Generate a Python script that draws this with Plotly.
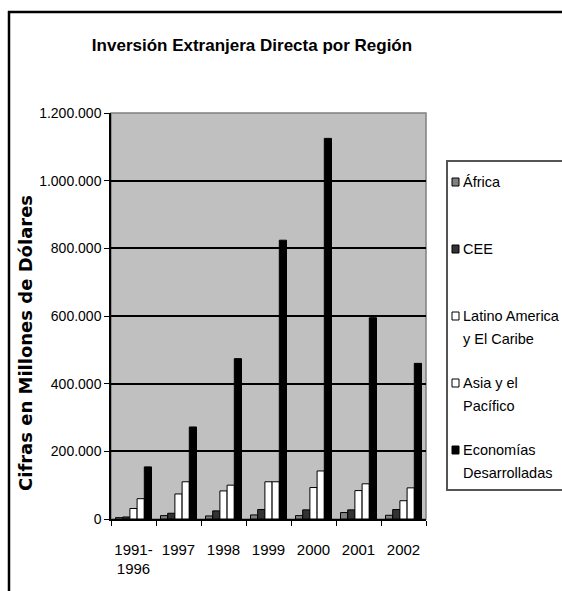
import plotly.graph_objects as go

# Inversión extranjera directa por región (millones de dólares)
periodos = ["1991-<br>1996", "1997", "1998", "1999", "2000", "2001", "2002"]

africa = [4000, 10000, 9000, 12000, 10000, 19000, 11000]
cee = [6000, 17000, 24000, 28000, 27000, 27000, 28000]
latino_america = [31000, 74000, 83000, 110000, 93000, 84000, 54000]
asia_pacifico = [60000, 110000, 100000, 110000, 142000, 104000, 92000]
economias_desarrolladas = [154000, 272000, 474000, 824000, 1125000, 595000, 460000]

series = [
    ("África", africa, "#808080"),
    ("CEE", cee, "#333333"),
    ("Latino America<br>y El Caribe", latino_america, "#ffffff"),
    ("Asia y el<br>Pacífico", asia_pacifico, "#ffffff"),
    ("Economías<br>Desarrolladas", economias_desarrolladas, "#000000"),
]

FONT = "Liberation Sans, Arial, sans-serif"

fig = go.Figure()
for nombre, valores, color in series:
    fig.add_trace(go.Bar(
        x=periodos, y=valores, name=nombre.replace("<br>", " "),
        showlegend=False,
        marker=dict(color=color, line=dict(color="#000000", width=1)),
    ))

# plot area in pixels: x 111..426, y 113..519
L, R, T, B = 111, 426, 113, 519
W, H = 562, 591


def px_x(p):
    return (p - L) / (R - L)


def px_y(p):
    return (B - p) / (B - T)


shapes = [
    # plot area border
    dict(type="rect", xref="paper", yref="paper", x0=0, x1=1, y0=0, y1=1,
         line=dict(color="#808080", width=1.5), layer="below"),
    # outer frame (left and top edges)
    dict(type="line", xref="paper", yref="paper",
         x0=px_x(9), x1=px_x(9), y0=px_y(11), y1=px_y(620),
         line=dict(color="#000000", width=2.5)),
    dict(type="line", xref="paper", yref="paper",
         x0=px_x(8), x1=px_x(620), y0=px_y(12), y1=px_y(12),
         line=dict(color="#000000", width=2.5)),
    # legend box (runs past the right edge)
    dict(type="rect", xref="paper", yref="paper",
         x0=px_x(447), x1=px_x(640), y0=px_y(490), y1=px_y(161),
         line=dict(color="#555555", width=2), fillcolor="#ffffff"),
]

annotations = [
    dict(text="<b>Cifras en Millones de Dólares</b>", textangle=-90,
         xref="paper", yref="paper", x=px_x(25), y=px_y(343),
         xanchor="center", yanchor="middle", showarrow=False,
         font=dict(family="DejaVu Sans, Arial, sans-serif", size=18, color="#000000")),
]

# legend entries: swatch + one annotation per text line
LEG_TOP, LEG_STEP, LINE_STEP = 182, 67, 23
for i, (nombre, _, color) in enumerate(series):
    yc = LEG_TOP + LEG_STEP * i
    shapes.append(dict(
        type="rect", xref="paper", yref="paper",
        x0=px_x(452), x1=px_x(459), y0=px_y(yc + 4), y1=px_y(yc - 4),
        line=dict(color="#000000", width=1), fillcolor=color,
    ))
    for j, linea in enumerate(nombre.split("<br>")):
        annotations.append(dict(
            text=linea, xref="paper", yref="paper",
            x=px_x(461), y=px_y(yc + LINE_STEP * j),
            xanchor="left", yanchor="middle", showarrow=False,
            font=dict(family=FONT, size=14.5, color="#000000"),
        ))

fig.update_layout(
    width=W, height=H,
    margin=dict(l=L, r=W - R, t=T, b=H - B, autoexpand=False),
    paper_bgcolor="#ffffff",
    plot_bgcolor="#c0c0c0",
    separators=",.",
    barmode="group",
    bargap=0.2,
    bargroupgap=0,
    showlegend=False,
    font=dict(family=FONT, size=14.5, color="#000000"),
    title=dict(
        text="<b>Inversión Extranjera Directa por Región</b>",
        x=252 / W, xanchor="center", y=1 - 45 / H, yanchor="middle",
        font=dict(family=FONT, size=17, color="#000000"),
    ),
    xaxis=dict(
        showline=True, linecolor="#000000", linewidth=1.5,
        ticks="outside", tickson="boundaries", ticklen=5, tickcolor="#000000",
        tickfont=dict(family=FONT, size=15), tickangle=0,
        ticklabelstandoff=16,
        showgrid=False,
    ),
    yaxis=dict(
        range=[0, 1200000], dtick=200000, tickformat=",d",
        showline=True, linecolor="#000000", linewidth=1.5,
        ticks="outside", ticklen=5, tickcolor="#000000",
        tickfont=dict(family=FONT, size=14),
        showgrid=True, gridcolor="#000000", gridwidth=1.5,
        zeroline=False,
    ),
    shapes=shapes,
    annotations=annotations,
)

fig.write_html("out.html")
